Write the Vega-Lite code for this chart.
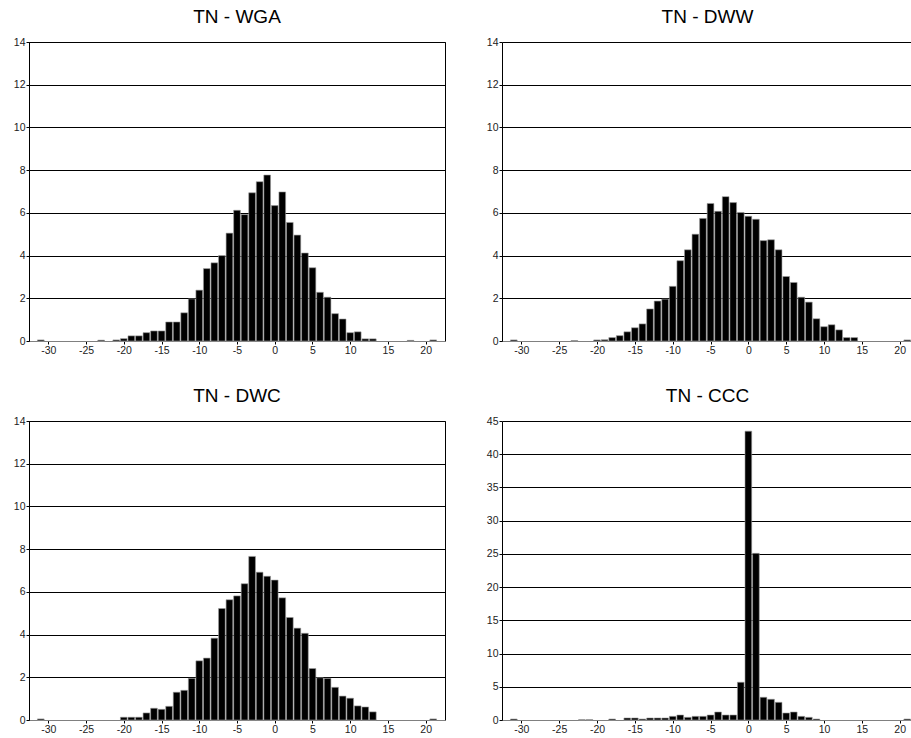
{
  "$schema": "https://vega.github.io/schema/vega-lite/v6.json",
  "padding": {"left": 8, "top": 7, "right": 0, "bottom": 0},
  "background": "white",
  "config": {
    "font": "Liberation Sans",
    "view": {"stroke": "black", "strokeWidth": 1},
    "title": {"font": "Liberation Sans", "fontSize": 19, "fontWeight": "normal", "color": "black", "anchor": "middle", "offset": 10},
    "axis": {"labelFont": "Liberation Sans", "labelFontSize": 10.5, "labelColor": "#222", "tickColor": "black", "tickSize": 3, "labelPadding": 1, "title": null, "labelExpr": "'' + datum.value"},
    "axisX": {"domainColor": "#808080", "grid": false, "labelFlush": false},
    "axisY": {"domainColor": "black", "minExtent": 20, "maxExtent": 20, "gridWidth": 1}
  },
  "data": {"values": [
    {"panel": "WGA", "diff": -31, "pct": 0.05},
    {"panel": "WGA", "diff": -23, "pct": 0.04},
    {"panel": "WGA", "diff": -21, "pct": 0.05},
    {"panel": "WGA", "diff": -20, "pct": 0.11},
    {"panel": "WGA", "diff": -19, "pct": 0.24},
    {"panel": "WGA", "diff": -18, "pct": 0.24},
    {"panel": "WGA", "diff": -17, "pct": 0.39},
    {"panel": "WGA", "diff": -16, "pct": 0.47},
    {"panel": "WGA", "diff": -15, "pct": 0.47},
    {"panel": "WGA", "diff": -14, "pct": 0.89},
    {"panel": "WGA", "diff": -13, "pct": 0.89},
    {"panel": "WGA", "diff": -12, "pct": 1.32},
    {"panel": "WGA", "diff": -11, "pct": 1.97},
    {"panel": "WGA", "diff": -10, "pct": 2.38},
    {"panel": "WGA", "diff": -9, "pct": 3.39},
    {"panel": "WGA", "diff": -8, "pct": 3.66},
    {"panel": "WGA", "diff": -7, "pct": 4.0},
    {"panel": "WGA", "diff": -6, "pct": 5.05},
    {"panel": "WGA", "diff": -5, "pct": 6.12},
    {"panel": "WGA", "diff": -4, "pct": 5.92},
    {"panel": "WGA", "diff": -3, "pct": 6.94},
    {"panel": "WGA", "diff": -2, "pct": 7.46},
    {"panel": "WGA", "diff": -1, "pct": 7.77},
    {"panel": "WGA", "diff": 0, "pct": 6.34},
    {"panel": "WGA", "diff": 1, "pct": 6.98},
    {"panel": "WGA", "diff": 2, "pct": 5.55},
    {"panel": "WGA", "diff": 3, "pct": 4.96},
    {"panel": "WGA", "diff": 4, "pct": 4.12},
    {"panel": "WGA", "diff": 5, "pct": 3.43},
    {"panel": "WGA", "diff": 6, "pct": 2.28},
    {"panel": "WGA", "diff": 7, "pct": 2.05},
    {"panel": "WGA", "diff": 8, "pct": 1.28},
    {"panel": "WGA", "diff": 9, "pct": 1.03},
    {"panel": "WGA", "diff": 10, "pct": 0.39},
    {"panel": "WGA", "diff": 11, "pct": 0.43},
    {"panel": "WGA", "diff": 12, "pct": 0.1},
    {"panel": "WGA", "diff": 13, "pct": 0.1},
    {"panel": "WGA", "diff": 18, "pct": 0.03},
    {"panel": "WGA", "diff": 21, "pct": 0.05},

    {"panel": "DWW", "diff": -31, "pct": 0.05},
    {"panel": "DWW", "diff": -23, "pct": 0.02},
    {"panel": "DWW", "diff": -20, "pct": 0.05},
    {"panel": "DWW", "diff": -19, "pct": 0.06},
    {"panel": "DWW", "diff": -18, "pct": 0.16},
    {"panel": "DWW", "diff": -17, "pct": 0.25},
    {"panel": "DWW", "diff": -16, "pct": 0.43},
    {"panel": "DWW", "diff": -15, "pct": 0.62},
    {"panel": "DWW", "diff": -14, "pct": 0.8},
    {"panel": "DWW", "diff": -13, "pct": 1.5},
    {"panel": "DWW", "diff": -12, "pct": 1.87},
    {"panel": "DWW", "diff": -11, "pct": 1.96},
    {"panel": "DWW", "diff": -10, "pct": 2.56},
    {"panel": "DWW", "diff": -9, "pct": 3.76},
    {"panel": "DWW", "diff": -8, "pct": 4.27},
    {"panel": "DWW", "diff": -7, "pct": 5.0},
    {"panel": "DWW", "diff": -6, "pct": 5.74},
    {"panel": "DWW", "diff": -5, "pct": 6.44},
    {"panel": "DWW", "diff": -4, "pct": 6.07},
    {"panel": "DWW", "diff": -3, "pct": 6.76},
    {"panel": "DWW", "diff": -2, "pct": 6.48},
    {"panel": "DWW", "diff": -1, "pct": 6.02},
    {"panel": "DWW", "diff": 0, "pct": 5.84},
    {"panel": "DWW", "diff": 1, "pct": 5.7},
    {"panel": "DWW", "diff": 2, "pct": 4.7},
    {"panel": "DWW", "diff": 3, "pct": 4.74},
    {"panel": "DWW", "diff": 4, "pct": 4.27},
    {"panel": "DWW", "diff": 5, "pct": 3.02},
    {"panel": "DWW", "diff": 6, "pct": 2.74},
    {"panel": "DWW", "diff": 7, "pct": 2.05},
    {"panel": "DWW", "diff": 8, "pct": 1.82},
    {"panel": "DWW", "diff": 9, "pct": 1.04},
    {"panel": "DWW", "diff": 10, "pct": 0.67},
    {"panel": "DWW", "diff": 11, "pct": 0.76},
    {"panel": "DWW", "diff": 12, "pct": 0.52},
    {"panel": "DWW", "diff": 13, "pct": 0.16},
    {"panel": "DWW", "diff": 14, "pct": 0.16},
    {"panel": "DWW", "diff": 21, "pct": 0.05},

    {"panel": "DWC", "diff": -31, "pct": 0.05},
    {"panel": "DWC", "diff": -20, "pct": 0.13},
    {"panel": "DWC", "diff": -19, "pct": 0.13},
    {"panel": "DWC", "diff": -18, "pct": 0.13},
    {"panel": "DWC", "diff": -17, "pct": 0.33},
    {"panel": "DWC", "diff": -16, "pct": 0.55},
    {"panel": "DWC", "diff": -15, "pct": 0.5},
    {"panel": "DWC", "diff": -14, "pct": 0.64},
    {"panel": "DWC", "diff": -13, "pct": 1.3},
    {"panel": "DWC", "diff": -12, "pct": 1.39},
    {"panel": "DWC", "diff": -11, "pct": 1.95},
    {"panel": "DWC", "diff": -10, "pct": 2.77},
    {"panel": "DWC", "diff": -9, "pct": 2.9},
    {"panel": "DWC", "diff": -8, "pct": 3.83},
    {"panel": "DWC", "diff": -7, "pct": 5.22},
    {"panel": "DWC", "diff": -6, "pct": 5.63},
    {"panel": "DWC", "diff": -5, "pct": 5.81},
    {"panel": "DWC", "diff": -4, "pct": 6.38},
    {"panel": "DWC", "diff": -3, "pct": 7.66},
    {"panel": "DWC", "diff": -2, "pct": 6.92},
    {"panel": "DWC", "diff": -1, "pct": 6.73},
    {"panel": "DWC", "diff": 0, "pct": 6.55},
    {"panel": "DWC", "diff": 1, "pct": 5.72},
    {"panel": "DWC", "diff": 2, "pct": 4.8},
    {"panel": "DWC", "diff": 3, "pct": 4.3},
    {"panel": "DWC", "diff": 4, "pct": 4.06},
    {"panel": "DWC", "diff": 5, "pct": 2.41},
    {"panel": "DWC", "diff": 6, "pct": 1.98},
    {"panel": "DWC", "diff": 7, "pct": 1.95},
    {"panel": "DWC", "diff": 8, "pct": 1.53},
    {"panel": "DWC", "diff": 9, "pct": 1.12},
    {"panel": "DWC", "diff": 10, "pct": 1.02},
    {"panel": "DWC", "diff": 11, "pct": 0.66},
    {"panel": "DWC", "diff": 12, "pct": 0.61},
    {"panel": "DWC", "diff": 13, "pct": 0.38},
    {"panel": "DWC", "diff": 21, "pct": 0.05},

    {"panel": "CCC", "diff": -31, "pct": 0.15},
    {"panel": "CCC", "diff": -22, "pct": 0.05},
    {"panel": "CCC", "diff": -21, "pct": 0.05},
    {"panel": "CCC", "diff": -18, "pct": 0.15},
    {"panel": "CCC", "diff": -16, "pct": 0.3},
    {"panel": "CCC", "diff": -15, "pct": 0.3},
    {"panel": "CCC", "diff": -14, "pct": 0.15},
    {"panel": "CCC", "diff": -13, "pct": 0.3},
    {"panel": "CCC", "diff": -12, "pct": 0.3},
    {"panel": "CCC", "diff": -11, "pct": 0.3},
    {"panel": "CCC", "diff": -10, "pct": 0.55},
    {"panel": "CCC", "diff": -9, "pct": 0.75},
    {"panel": "CCC", "diff": -8, "pct": 0.4},
    {"panel": "CCC", "diff": -7, "pct": 0.55},
    {"panel": "CCC", "diff": -6, "pct": 0.55},
    {"panel": "CCC", "diff": -5, "pct": 0.75},
    {"panel": "CCC", "diff": -4, "pct": 1.2},
    {"panel": "CCC", "diff": -3, "pct": 0.75},
    {"panel": "CCC", "diff": -2, "pct": 0.75},
    {"panel": "CCC", "diff": -1, "pct": 5.68},
    {"panel": "CCC", "diff": 0, "pct": 43.47},
    {"panel": "CCC", "diff": 1, "pct": 25.08},
    {"panel": "CCC", "diff": 2, "pct": 3.42},
    {"panel": "CCC", "diff": 3, "pct": 3.12},
    {"panel": "CCC", "diff": 4, "pct": 2.66},
    {"panel": "CCC", "diff": 5, "pct": 1.05},
    {"panel": "CCC", "diff": 6, "pct": 1.2},
    {"panel": "CCC", "diff": 7, "pct": 0.55},
    {"panel": "CCC", "diff": 8, "pct": 0.4},
    {"panel": "CCC", "diff": 9, "pct": 0.15},
    {"panel": "CCC", "diff": 21, "pct": 0.15}
  ]},
  "spacing": 30,
  "vconcat": [
    {
      "spacing": 36,
      "hconcat": [
        {
          "title": "TN - WGA",
          "width": 416, "height": 299,
          "transform": [{"filter": "datum.panel === 'WGA'"}],
          "mark": {"type": "bar", "size": 6.7, "fill": "black", "stroke": "#9a9a9a", "strokeWidth": 0.6},
          "encoding": {
            "x": {"field": "diff", "type": "quantitative", "scale": {"domain": [-31.9, 21.9], "nice": false, "zero": false}, "axis": {"values": [-30, -25, -20, -15, -10, -5, 0, 5, 10, 15, 20]}},
            "y": {"field": "pct", "type": "quantitative", "scale": {"domain": [0, 14], "nice": false}, "axis": {"values": [0, 2, 4, 6, 8, 10, 12, 14], "gridColor": {"condition": {"test": "datum.value === 0", "value": "#808080"}, "value": "black"}}}
          }
        },
        {
          "title": "TN - DWW",
          "width": 411, "height": 299,
          "view": {"stroke": null},
          "transform": [{"filter": "datum.panel === 'DWW'"}],
          "mark": {"type": "bar", "size": 6.7, "fill": "black", "stroke": "#9a9a9a", "strokeWidth": 0.6},
          "encoding": {
            "x": {"field": "diff", "type": "quantitative", "scale": {"domain": [-31.9, 21.1], "nice": false, "zero": false}, "axis": {"values": [-30, -25, -20, -15, -10, -5, 0, 5, 10, 15, 20]}},
            "y": {"field": "pct", "type": "quantitative", "scale": {"domain": [0, 14], "nice": false}, "axis": {"values": [0, 2, 4, 6, 8, 10, 12, 14], "gridColor": {"condition": {"test": "datum.value === 0", "value": "#808080"}, "value": "black"}}}
          }
        }
      ]
    },
    {
      "spacing": 36,
      "hconcat": [
        {
          "title": "TN - DWC",
          "width": 416, "height": 299,
          "transform": [{"filter": "datum.panel === 'DWC'"}],
          "mark": {"type": "bar", "size": 6.7, "fill": "black", "stroke": "#9a9a9a", "strokeWidth": 0.6},
          "encoding": {
            "x": {"field": "diff", "type": "quantitative", "scale": {"domain": [-31.9, 21.9], "nice": false, "zero": false}, "axis": {"values": [-30, -25, -20, -15, -10, -5, 0, 5, 10, 15, 20]}},
            "y": {"field": "pct", "type": "quantitative", "scale": {"domain": [0, 14], "nice": false}, "axis": {"values": [0, 2, 4, 6, 8, 10, 12, 14], "gridColor": {"condition": {"test": "datum.value === 0", "value": "#808080"}, "value": "black"}}}
          }
        },
        {
          "title": "TN - CCC",
          "width": 411, "height": 299,
          "view": {"stroke": null},
          "transform": [{"filter": "datum.panel === 'CCC'"}],
          "mark": {"type": "bar", "size": 6.7, "fill": "black", "stroke": "#9a9a9a", "strokeWidth": 0.6},
          "encoding": {
            "x": {"field": "diff", "type": "quantitative", "scale": {"domain": [-31.9, 21.1], "nice": false, "zero": false}, "axis": {"values": [-30, -25, -20, -15, -10, -5, 0, 5, 10, 15, 20]}},
            "y": {"field": "pct", "type": "quantitative", "scale": {"domain": [0, 45], "nice": false}, "axis": {"values": [0, 5, 10, 15, 20, 25, 30, 35, 40, 45], "gridColor": {"condition": {"test": "datum.value === 0", "value": "#808080"}, "value": "black"}}}
          }
        }
      ]
    }
  ]
}
